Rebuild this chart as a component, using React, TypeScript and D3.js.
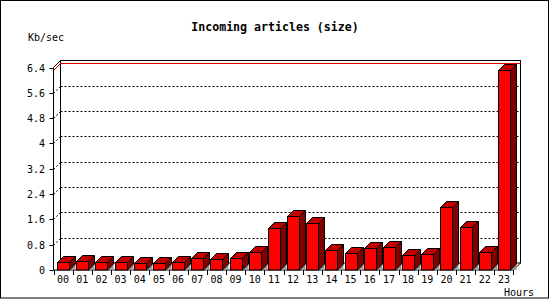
import React from "react";
import * as d3 from "d3";

const hours = ["00","01","02","03","04","05","06","07","08","09","10","11","12","13","14","15","16","17","18","19","20","21","22","23"];
const values = [0.24,0.3,0.24,0.26,0.21,0.21,0.25,0.37,0.34,0.37,0.57,1.32,1.70,1.48,0.62,0.53,0.69,0.72,0.47,0.50,1.99,1.35,0.56,6.33];
const yTicks = [0,0.8,1.6,2.4,3.2,4,4.8,5.6,6.4];
const yTickLabels = ["0","0.8","1.6","2.4","3.2","4","4.8","5.6","6.4"];
const title = "Incoming articles (size)";
const yUnit = "Kb/sec";
const xUnit = "Hours";

const W = 550, H = 300;
const D = 7; // wall depth
const BD = 6; // bar depth
const mono = "'DejaVu Sans Mono', monospace";

export default function App() {
  const x = d3.scaleBand<string>().domain(hours).range([53.5, 513.5]);
  const y = d3.scaleLinear().domain([0, 6.4]).range([270, 67.5]);
  const left = 53.5, right = 513.5, base = 270, top = y(6.4);
  const bw = 12;
  const maxV = d3.max(values) as number;
  const ym = Math.round(y(maxV)) + 0.5;

  return (
    <svg width={W} height={H} style={{ position: "absolute", left: 0, top: 0, background: "#fff" }}>
      <rect x={0.5} y={0.5} width={548} height={297.5} fill="#fff" stroke="#000" />
      <text x={275} y={31} textAnchor="middle" fontFamily={mono} fontWeight="bold" fontSize={11.6}>{title}</text>
      <text x={28} y={41} fontFamily={mono} fontSize={10}>{yUnit}</text>
      {/* back wall */}
      <rect x={left + D} y={top - D} width={right - left} height={base - top} fill="#fff" stroke="#000" />
      {/* grid lines on wall */}
      {yTicks.slice(1, -1).map((t) => {
        const yy = Math.round(y(t)) + 0.5;
        return (
          <g key={t}>
            <line x1={left + D} x2={right + D} y1={yy - D} y2={yy - D} stroke="#000" strokeDasharray="2,2" />
            <line x1={left} x2={left + D} y1={yy} y2={yy - D} stroke="#000" strokeDasharray="2,2" />
          </g>
        );
      })}
      {/* max line */}
      <line x1={left + D} x2={right + D} y1={ym - D} y2={ym - D} stroke="#e00000" />
      <line x1={left} x2={left + D} y1={ym} y2={ym - D} stroke="#e00000" />
      {/* axes */}
      <line x1={left} x2={left} y1={top} y2={base} stroke="#000" />
      <line x1={left} x2={left + D} y1={top} y2={top - D} stroke="#000" />
      <line x1={left} x2={right} y1={base} y2={base} stroke="#000" />
      <line x1={right} x2={right + D} y1={base} y2={base - D} stroke="#000" />
      {yTicks.map((t, i) => {
        const yy = Math.round(y(t)) + 0.5;
        return (
          <g key={"yt" + t}>
            <line x1={left - 4} x2={left} y1={yy} y2={yy} stroke="#000" />
            <text x={45} y={yy + 3.5} textAnchor="end" fontFamily={mono} fontSize={10}>{yTickLabels[i]}</text>
          </g>
        );
      })}
      {hours.map((h, i) => {
        const xx = Math.round(x(h) as number) + 0.5;
        return <line key={"xt" + h} x1={xx} x2={xx} y1={base} y2={base + 5} stroke="#000" />;
      })}
      <line x1={right} x2={right} y1={base} y2={base + 5} stroke="#000" />
      {/* bars */}
      {hours.map((h, i) => {
        const cx = (x(h) as number) + x.bandwidth() / 2;
        const x0 = Math.round(cx - bw / 2) + 0.5;
        const x1 = x0 + bw;
        const yt = Math.round(y(values[i])) + 0.5;
        const b = base;
        return (
          <g key={"b" + h} stroke="#000" strokeWidth={1}>
            <polygon points={`${x1},${b} ${x1 + BD},${b - BD} ${x1 + BD},${b}`} fill="#999" stroke="none" />
            <polygon points={`${x1},${yt} ${x1 + BD},${yt - BD} ${x1 + BD},${b - BD} ${x1},${b}`} fill="#800000" />
            <polygon points={`${x0},${yt} ${x0 + BD},${yt - BD} ${x1 + BD},${yt - BD} ${x1},${yt}`} fill="#c00000" />
            <rect x={x0} y={yt} width={bw} height={b - yt} fill="#ff0000" />
          </g>
        );
      })}
      {hours.map((h) => (
        <text key={"xl" + h} x={(x(h) as number) + x.bandwidth() / 2} y={283} textAnchor="middle" fontFamily={mono} fontSize={10}>{h}</text>
      ))}
      <text x={534} y={296} textAnchor="end" fontFamily={mono} fontSize={10}>{xUnit}</text>
    </svg>
  );
}
